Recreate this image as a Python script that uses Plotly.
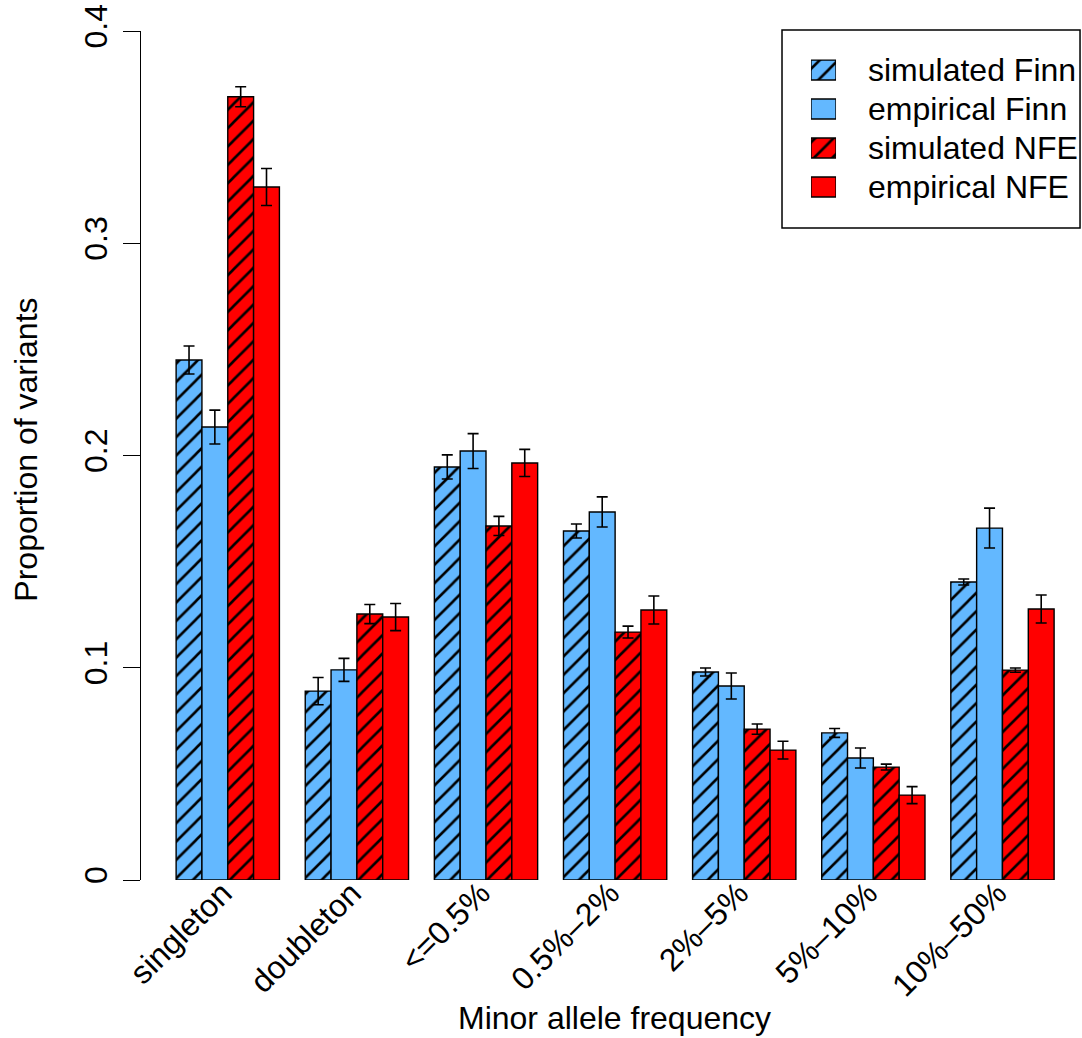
import plotly.graph_objects as go

# Minor allele frequency bins
categories = ["singleton", "doubleton", "<=0.5%", "0.5%–2%", "2%–5%", "5%–10%", "10%–50%"]

series_names = ["simulated Finn", "empirical Finn", "simulated NFE", "empirical NFE"]

sim_finn = [0.245, 0.089, 0.1946, 0.1644, 0.098, 0.0693, 0.1404]
sim_finn_err = [0.0066, 0.0064, 0.0057, 0.0033, 0.0019, 0.0021, 0.0014]

emp_finn = [0.2134, 0.099, 0.2021, 0.1734, 0.0914, 0.0575, 0.1658]
emp_finn_err = [0.008, 0.0054, 0.0082, 0.0071, 0.0061, 0.0047, 0.0094]

sim_nfe = [0.369, 0.1253, 0.1668, 0.1168, 0.0711, 0.0532, 0.0989]
sim_nfe_err = [0.0047, 0.0045, 0.0045, 0.0028, 0.0024, 0.0014, 0.001]

emp_nfe = [0.3265, 0.1239, 0.1965, 0.1272, 0.0612, 0.04, 0.1277]
emp_nfe_err = [0.0087, 0.0064, 0.0064, 0.0066, 0.0042, 0.004, 0.0066]

y_ticks = [0, 0.1, 0.2, 0.3, 0.4]
y_tick_labels = ["0", "0.1", "0.2", "0.3", "0.4"]

BLUE = "#63B8FF"
RED = "#FF0000"
FONT = "Liberation Sans, Arial, Helvetica, sans-serif"
TEXT_SIZE = 32

values = [sim_finn, emp_finn, sim_nfe, emp_nfe]
errors = [sim_finn_err, emp_finn_err, sim_nfe_err, emp_nfe_err]
colors = [BLUE, BLUE, RED, RED]
hatched = [True, False, True, False]

n_series = len(series_names)
group_span = n_series + 1  # bars plus one bar-width of spacing


def bar_pattern(h):
    if h:
        return dict(shape="/", fgcolor="black", fgopacity=1, size=13,
                    solidity=0.2, fillmode="overlay")
    return dict(shape="")


fig = go.Figure()

for j, name in enumerate(series_names):
    xs = [1.5 + group_span * g + j for g in range(len(categories))]
    fig.add_trace(go.Bar(
        x=xs, y=values[j], width=1, name=name, showlegend=False,
        marker=dict(color=colors[j], line=dict(color="black", width=1.4),
                    pattern=bar_pattern(hatched[j])),
        error_y=dict(type="data", array=errors[j], visible=True,
                     color="black", thickness=1.6, width=5.5),
    ))

# legend swatches drawn as small bars on their own axes
for j, name in enumerate(series_names):
    fig.add_trace(go.Bar(
        x=[1], y=[name], base=0, orientation="h", width=0.51,
        xaxis="x2", yaxis="y2", showlegend=False, hoverinfo="skip",
        marker=dict(color=colors[j], line=dict(color="black", width=1.4),
                    pattern=bar_pattern(hatched[j])),
    ))
    fig.add_annotation(x=0.7705, xref="paper", y=name, yref="y2",
                       text=name, showarrow=False, xanchor="left", yanchor="middle",
                       font=dict(family=FONT, size=TEXT_SIZE, color="black"))

# label anchors sit slightly left of each group's centre
group_label_pos = [1 + group_span * g + n_series / 2 - 0.2 for g in range(len(categories))]

fig.update_layout(
    width=1082, height=1038,
    margin=dict(l=141, r=0, t=31, b=158),
    paper_bgcolor="white", plot_bgcolor="white",
    barmode="overlay",
    font=dict(family=FONT, size=TEXT_SIZE, color="black"),
    xaxis=dict(range=[-0.36, 36.08], showgrid=False, zeroline=False, showline=False,
               tickmode="array", tickvals=group_label_pos, ticktext=categories,
               tickangle=-45, ticks="", ticklabelstandoff=-13,
               tickfont=dict(size=TEXT_SIZE)),
    yaxis=dict(range=[0, 0.4], showgrid=False, zeroline=False, showline=True,
               linecolor="black", linewidth=1.4, ticks="outside", ticklen=17,
               tickwidth=1.4, tickcolor="black", tickmode="array",
               tickvals=y_ticks, ticktext=y_tick_labels, tickangle=-90,
               ticklabelstandoff=3, tickfont=dict(size=TEXT_SIZE)),
    xaxis2=dict(domain=[0.712, 0.7386], range=[0, 1], anchor="y2", visible=False),
    yaxis2=dict(domain=[0.7933, 0.977], range=[3.5, -0.5], anchor="x2", visible=False,
                type="category", categoryorder="array", categoryarray=series_names),
    shapes=[dict(type="rect", xref="paper", yref="paper",
                 x0=0.6812, x1=0.9979, y0=0.768, y1=1.0012,
                 line=dict(color="black", width=1.5), fillcolor="rgba(0,0,0,0)")],
)

fig.add_annotation(x=0.5037, xref="paper", y=-0.1625, yref="paper",
                   text="Minor allele frequency", showarrow=False,
                   xanchor="center", yanchor="middle",
                   font=dict(family=FONT, size=TEXT_SIZE))
fig.add_annotation(x=-0.1232, xref="paper", y=0.507, yref="paper",
                   text="Proportion of variants", showarrow=False, textangle=-90,
                   xanchor="center", yanchor="middle",
                   font=dict(family=FONT, size=TEXT_SIZE))

fig.write_html("out.html")
